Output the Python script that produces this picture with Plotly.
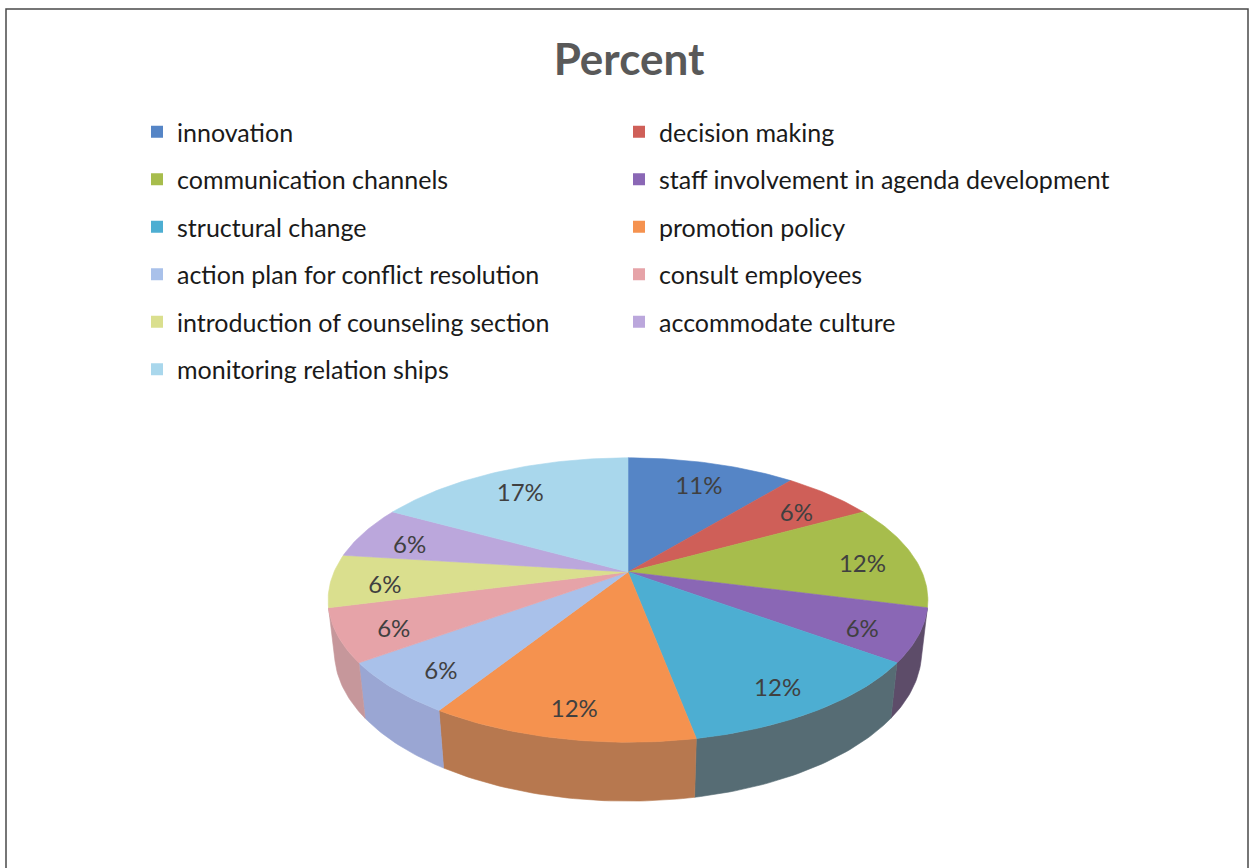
import numpy as np
import plotly.graph_objects as go

# ---- data -------------------------------------------------------------
categories = [
    "innovation",
    "decision making",
    "communication channels",
    "staff involvement in agenda development",
    "structural change",
    "promotion policy",
    "action plan for conflict resolution",
    "consult employees",
    "introduction of counseling section",
    "accommodate culture",
    "monitoring relation ships",
]
percent = [11, 6, 12, 6, 12, 12, 6, 6, 6, 6, 17]

top_colors = [
    "#5585C6", "#CF5F58", "#A7BD4C", "#8A67B5", "#4DAED2", "#F5924F",
    "#A9C1EA", "#E6A3A8", "#DADF8E", "#BBA7DC", "#A9D7EC",
]
side_colors = [
    "#3F5F8C", "#8E4542", "#77873A", "#5D4C69", "#566C74", "#B7784F",
    "#9AA6D3", "#C6979B", "#A6AB6A", "#8E80A8", "#7FA3B2",
]

# ---- page / projection settings -------------------------------------
W, H = 1257, 868
CX, CY = 628.0, 572.0          # screen position of the pie centre
FOCAL = 1320.0                 # focal length (px, in pie-radius units)
DIST = 4.49                    # camera distance (pie radii)
TILT = np.radians(27.7)        # camera elevation
THICK = 0.2                    # slab thickness (pie radii)
LABEL_R = 0.82                 # radial position of the % labels
LABEL_DY = 8                   # labels sit slightly below the slice centre line
FONT = "Lato"

ca, sa = np.cos(TILT), np.sin(TILT)


def project(u, v, z):
    """Perspective projection of a disc point (u right, v toward viewer, z up)."""
    depth = DIST - (v * ca + z * sa)
    x = CX + FOCAL * u / depth
    y = CY + FOCAL * (v * sa - z * ca) / depth
    return x, y


def arc(t0, t1, r=1.0, z=0.0):
    n = max(4, int(np.degrees(t1 - t0)) + 2)
    t = np.linspace(t0, t1, n)
    return project(r * np.sin(t), -r * np.cos(t), z)


# angles measured clockwise from 12 o'clock
fractions = np.array(percent, dtype=float) / np.sum(percent)
edges = np.concatenate([[0.0], np.cumsum(fractions)]) * 2 * np.pi

# side wall faces the camera where v > 1 / (DIST * cos(tilt))
v_min = 1.0 / (DIST * ca)
front_lo = np.arccos(-v_min)
front_hi = 2 * np.pi - front_lo

fig = go.Figure()

# outer walls (front-facing part only)
for i, name in enumerate(categories):
    a, b = max(edges[i], front_lo), min(edges[i + 1], front_hi)
    if b <= a:
        continue
    xt, yt = arc(a, b, z=0.0)
    xb, yb = arc(a, b, z=-THICK)
    xs = np.concatenate([xt, xb[::-1], xt[:1]])
    ys = np.concatenate([yt, yb[::-1], yt[:1]])
    fig.add_trace(go.Scatter(
        x=xs, y=ys, mode="lines", fill="toself",
        fillcolor=side_colors[i], line=dict(color=side_colors[i], width=0.6),
        hoverinfo="skip", showlegend=False,
    ))

# top faces
for i, name in enumerate(categories):
    xa, ya = arc(edges[i], edges[i + 1])
    x0, y0 = project(0.0, 0.0, 0.0)
    xs = np.concatenate([[x0], xa, [x0]])
    ys = np.concatenate([[y0], ya, [y0]])
    fig.add_trace(go.Scatter(
        x=xs, y=ys, mode="lines", fill="toself",
        fillcolor=top_colors[i], line=dict(color=top_colors[i], width=0.6),
        name=name, hoverinfo="name", showlegend=False,
    ))

# percentage labels
mids = (edges[:-1] + edges[1:]) / 2
lx, ly = project(LABEL_R * np.sin(mids), -LABEL_R * np.cos(mids), 0.0)
fig.add_trace(go.Scatter(
    x=lx, y=ly + LABEL_DY, mode="text", text=[f"{p}%" for p in percent],
    textfont=dict(family=FONT, size=24, color="#404040"),
    hoverinfo="skip", showlegend=False,
))

# legend entries: two columns, each its own legend
for i, name in enumerate(categories):
    fig.add_trace(go.Scatter(
        x=[None], y=[None], mode="markers", name=name,
        marker=dict(symbol="square", size=13, color=top_colors[i]),
        legend="legend" if i % 2 == 0 else "legend2",
        legendgroup=f"g{i}", showlegend=True,
    ))

legend_common = dict(
    font=dict(family=FONT, size=25, color="#1A1A1A"),
    orientation="v", yanchor="top", xanchor="left",
    tracegroupgap=12, itemsizing="constant",
    bgcolor="rgba(0,0,0,0)", borderwidth=0,
)

fig.update_layout(
    width=W, height=H,
    margin=dict(l=0, r=0, t=0, b=0),
    paper_bgcolor="white", plot_bgcolor="white",
    xaxis=dict(range=[0, W], visible=False, fixedrange=True),
    yaxis=dict(range=[H, 0], visible=False, fixedrange=True),
    title=dict(
        text="<b>Percent</b>", x=629 / W, xanchor="center",
        y=1 - 60 / H, yanchor="middle",
        font=dict(family=FONT, size=44, color="#595959"),
    ),
    legend=dict(x=137 / W, y=1 - 109 / H, **legend_common),
    legend2=dict(x=619 / W, y=1 - 109 / H, **legend_common),
    shapes=[dict(
        type="rect", xref="x", yref="y", x0=6, x1=1248, y0=9, y1=880,
        line=dict(color="#4A4A4A", width=1.5), fillcolor="rgba(0,0,0,0)",
        layer="below",
    )],
)

fig.write_html("out.html")
